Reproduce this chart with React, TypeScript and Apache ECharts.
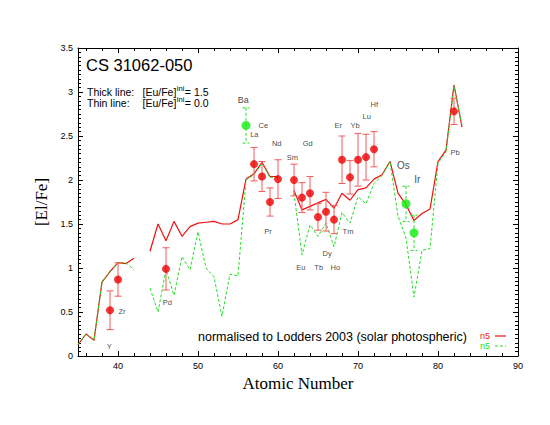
import React, { useEffect, useRef } from 'react';
import * as echarts from 'echarts';

// Atomic numbers for the model curves
const atomicNumbers = [
  35, 36, 37, 38, 39, 40, 41, 42, 43, 44, 45, 46, 47, 48, 49, 50, 51, 52, 53, 54, 55,
  56, 57, 58, 59, 60, 61, 62, 63, 64, 65, 66, 67, 68, 69, 70, 71, 72, 73, 74, 75, 76,
  77, 78, 79, 80, 81, 82, 83,
];
// Thick line: [Eu/Fe]ini = 1.5 (red)
const thickLine: (number | null)[] = [
  0.13, 0.25, 0.18, 0.84, 0.96, 1.06, 1.05, 1.11, null, 1.19, 1.5, 1.31, 1.53, 1.36, 1.47, 1.51, 1.52, 1.53, 1.5, 1.5, 1.55,
  2.01, 2.07, 2.2, 2.04, 2.04, null, 1.88, 1.66, 1.7, 1.74, 1.78, 1.68, 1.85, 1.77, 1.89, 1.91, 2.01, 2.06, 2.21, 1.85, 1.72,
  1.54, 1.62, 1.67, 2.21, 2.34, 3.08, 2.6,
];
// Thin line: [Eu/Fe]ini = 0.0 (green dashed)
const thinLine: (number | null)[] = [
  0.13, 0.25, 0.18, 0.84, 0.96, 1.06, 1.06, 0.98, null, 0.77, 0.5, 0.98, 0.69, 1.13, 0.98, 1.41, 1.0, 0.9, 0.45, 0.93, 0.91,
  2.0, 2.06, 2.19, 2.03, 2.03, null, 1.85, 1.15, 1.49, 1.36, 1.51, 1.24, 1.63, 1.51, 1.81, 1.73, 1.96, 2.05, 2.21, 1.59, 1.34,
  0.67, 1.2, 1.22, 2.19, 2.32, 3.07, 2.62,
];

// Observed abundances (red)
const redObsZ = [39, 40, 46, 57, 58, 59, 60, 62, 63, 64, 65, 66, 67, 68, 69, 70, 71, 72, 82];
const redObsVal = [0.52, 0.87, 0.99, 2.18, 2.04, 1.75, 2.01, 2.0, 1.8, 1.85, 1.58, 1.64, 1.55, 2.23, 2.03, 2.23, 2.26, 2.35, 2.78];
const redObsErr = [0.22, 0.19, 0.24, 0.19, 0.17, 0.16, 0.22, 0.18, 0.17, 0.19, 0.15, 0.22, 0.16, 0.27, 0.19, 0.3, 0.26, 0.2, 0.15];

// Observed abundances (green)
const greenObsZ = [56, 76, 77];
const greenObsVal = [2.62, 1.73, 1.4];
const greenObsErr = [0.2, 0.2, 0.2];

// Element labels (placed in data units)
const labelNames = ['Y', 'Zr', 'Pd', 'Ba', 'La', 'Ce', 'Pr', 'Nd', 'Sm', 'Gd', 'Eu', 'Tb', 'Dy', 'Ho', 'Er', 'Tm', 'Yb', 'Lu', 'Hf', 'Os', 'Ir', 'Pb'];
const labelZ = [38.9, 40.5, 46.16, 55.66, 57.04, 58.16, 58.75, 59.84, 61.79, 63.71, 62.84, 65.09, 66.13, 67.16, 67.54, 68.75, 69.63, 71.09, 72.04, 75.66, 77.41, 82.13];
const labelV = [0.11, 0.51, 0.61, 2.91, 2.52, 2.62, 1.41, 2.42, 2.26, 2.42, 1.01, 1.01, 1.16, 1.01, 2.62, 1.41, 2.62, 2.72, 2.86, 2.16, 2.01, 2.31];
const labelSizes = [7.5, 7.5, 7.5, 9, 7.5, 7.5, 7.5, 7.5, 7.5, 7.5, 7.5, 7.5, 7.5, 7.5, 7.5, 7.5, 7.5, 7.5, 7.5, 10, 10, 7.5];

// Annotation texts
const annotPrefix = ['Thick line:', 'Thin line:'];
const annotValue = ['= 1.5', '= 0.0'];

const RED = '#f01010';
const RED_ERR = '#f25a5a';
const GREEN = '#22dd22';
const GREEN_PT = '#11ee11';
const SANS = '"Liberation Sans", Arial, sans-serif';
const SERIF = '"Liberation Serif", "Times New Roman", serif';

function measure(text: string, font: string): number {
  const ctx = document.createElement('canvas').getContext('2d');
  if (!ctx) return text.length * 6;
  ctx.font = font;
  return ctx.measureText(text).width;
}

function errRender(color: string, dash: number[] | null) {
  return (params: any, api: any) => {
    const x = api.value(0);
    const lo = api.value(1);
    const hi = api.value(2);
    const top = api.coord([x, hi]);
    const bot = api.coord([x, lo]);
    const hw = 3.5;
    const style = { stroke: color, lineWidth: 1, lineDash: dash || undefined, fill: 'none' };
    return {
      type: 'group',
      children: [
        { type: 'line', shape: { x1: top[0], y1: top[1], x2: bot[0], y2: bot[1] }, style },
        { type: 'line', shape: { x1: top[0] - hw, y1: top[1], x2: top[0] + hw, y2: top[1] }, style },
        { type: 'line', shape: { x1: bot[0] - hw, y1: bot[1], x2: bot[0] + hw, y2: bot[1] }, style },
      ],
    };
  };
}

export default function App() {
  const ref = useRef<HTMLDivElement>(null);
  useEffect(() => {
    if (!ref.current) return;
    const chart = echarts.init(ref.current, undefined, { renderer: 'svg' });

    const axisCommon = {
      type: 'value' as const,
      axisLine: { show: true, onZero: false, lineStyle: { color: '#000', width: 1 } },
      splitLine: { show: false },
    };

    const mainFont = '10.5px ' + SANS;
    const supFont = '7.5px ' + SANS;
    const euX = 142.5;
    const euW = measure('[Eu/Fe]', mainFont);
    const supW = measure('ini', supFont);
    const annotGraphics: any[] = [];
    annotPrefix.forEach((p, i) => {
      const y = 92 + i * 11;
      annotGraphics.push(
        { type: 'text', x: 87, y, style: { text: p, font: mainFont, fill: '#000', verticalAlign: 'middle' } },
        { type: 'text', x: euX, y, style: { text: '[Eu/Fe]', font: mainFont, fill: '#000', verticalAlign: 'middle' } },
        { type: 'text', x: euX + euW + 0.5, y: y - 3.5, style: { text: 'ini', font: supFont, fill: '#000', verticalAlign: 'middle' } },
        { type: 'text', x: euX + euW + supW + 1, y, style: { text: annotValue[i], font: mainFont, fill: '#000', verticalAlign: 'middle' } },
      );
    });

    const option: any = {
      animation: false,
      backgroundColor: '#fff',
      grid: { left: 78, right: 32, top: 48, bottom: 69, containLabel: false },
      xAxis: [
        {
          ...axisCommon,
          min: 35,
          max: 90,
          splitNumber: 5,
          position: 'bottom',
          axisTick: { show: true, inside: true, length: 5, lineStyle: { color: '#000' } },
          minorTick: { show: true, splitNumber: 5, length: 3, lineStyle: { color: '#000' } },
          axisLabel: { show: true, showMinLabel: false, margin: 5, fontSize: 9, color: '#000', fontFamily: SANS },
          name: 'Atomic Number',
          nameLocation: 'middle',
          nameGap: 17,
          nameTextStyle: { fontFamily: SERIF, fontSize: 17, color: '#000' },
        },
        {
          ...axisCommon,
          min: 35,
          max: 90,
          splitNumber: 5,
          position: 'top',
          axisTick: { show: true, inside: true, length: 5, lineStyle: { color: '#000' } },
          minorTick: { show: true, splitNumber: 5, length: 3, lineStyle: { color: '#000' } },
          axisLabel: { show: false },
        },
      ],
      yAxis: [
        {
          ...axisCommon,
          min: 0,
          max: 3.5,
          interval: 0.5,
          position: 'left',
          axisTick: { show: true, inside: true, length: 5, lineStyle: { color: '#000' } },
          minorTick: { show: true, splitNumber: 10, length: 3, lineStyle: { color: '#000' } },
          axisLabel: { show: true, margin: 5, fontSize: 9, color: '#000', fontFamily: SANS },
          name: '[El/Fe]',
          nameLocation: 'middle',
          nameGap: 28,
          nameTextStyle: { fontFamily: SERIF, fontSize: 17, color: '#000' },
        },
        {
          ...axisCommon,
          min: 0,
          max: 3.5,
          interval: 0.5,
          position: 'right',
          axisTick: { show: true, inside: true, length: 5, lineStyle: { color: '#000' } },
          minorTick: { show: true, splitNumber: 10, length: 3, lineStyle: { color: '#000' } },
          axisLabel: { show: false },
        },
      ],
      series: [
        {
          name: 'n5 thick',
          type: 'line',
          xAxisIndex: 0,
          yAxisIndex: 0,
          symbol: 'none',
          connectNulls: false,
          data: atomicNumbers.map((z, i) => [z, thickLine[i] === null ? '-' : thickLine[i]]),
          lineStyle: { color: RED, width: 1.2 },
          z: 3,
        },
        {
          name: 'n5 thin',
          type: 'line',
          xAxisIndex: 0,
          yAxisIndex: 0,
          symbol: 'none',
          connectNulls: false,
          data: atomicNumbers.map((z, i) => [z, thinLine[i] === null ? '-' : thinLine[i]]),
          lineStyle: { color: GREEN, width: 1, type: [3, 2] },
          z: 4,
        },
        {
          name: 'red err',
          type: 'custom',
          renderItem: errRender(RED_ERR, null),
          data: redObsZ.map((z, i) => [z, redObsVal[i] - redObsErr[i], redObsVal[i] + redObsErr[i]]),
          z: 5,
        },
        {
          name: 'green err',
          type: 'custom',
          renderItem: errRender(GREEN, [3, 2]),
          data: greenObsZ.map((z, i) => [z, greenObsVal[i] - greenObsErr[i], greenObsVal[i] + greenObsErr[i]]),
          z: 5,
        },
        {
          name: 'red obs',
          type: 'scatter',
          symbol: 'circle',
          symbolSize: 8,
          itemStyle: { color: '#ee0000' },
          data: redObsZ.map((z, i) => [z, redObsVal[i]]),
          z: 6,
        },
        {
          name: 'green obs',
          type: 'scatter',
          symbol: 'circle',
          symbolSize: 9,
          itemStyle: { color: GREEN_PT },
          data: greenObsZ.map((z, i) => [z, greenObsVal[i]]),
          z: 6,
        },
        {
          name: 'labels',
          type: 'scatter',
          symbolSize: 0,
          silent: true,
          data: labelNames.map((n, i) => ({
            name: n,
            value: [labelZ[i], labelV[i]],
            label: { fontSize: labelSizes[i] },
          })),
          label: {
            show: true,
            position: 'inside',
            formatter: (p: any) => p.name,
            color: '#111',
            fontFamily: SANS,
          },
          z: 7,
        },
      ],
      graphic: [
        {
          type: 'text',
          x: 86,
          y: 65,
          style: { text: 'CS 31062-050', font: '16.5px ' + SANS, fill: '#000', verticalAlign: 'middle' },
        },
        ...annotGraphics,
        {
          type: 'text',
          x: 198,
          y: 337,
          style: {
            text: 'normalised to Lodders 2003 (solar photospheric)',
            font: '12.5px ' + SANS,
            fill: '#000',
            verticalAlign: 'middle',
          },
        },
        {
          type: 'text',
          x: 480,
          y: 336,
          style: { text: 'n5', font: '9px ' + SANS, fill: RED, verticalAlign: 'middle' },
        },
        {
          type: 'line',
          shape: { x1: 495, y1: 336, x2: 506, y2: 336 },
          style: { stroke: RED, lineWidth: 1.2 },
        },
        {
          type: 'text',
          x: 480,
          y: 346,
          style: { text: 'n5', font: '9px ' + SANS, fill: GREEN, verticalAlign: 'middle' },
        },
        {
          type: 'line',
          shape: { x1: 495, y1: 346, x2: 506, y2: 346 },
          style: { stroke: GREEN, lineWidth: 1, lineDash: [3, 2] },
        },
      ],
    };

    chart.setOption(option);
    return () => chart.dispose();
  }, []);

  return (
    <div
      ref={ref}
      style={{ position: 'absolute', left: 0, top: 0, width: 550, height: 425, background: '#fff' }}
    />
  );
}
